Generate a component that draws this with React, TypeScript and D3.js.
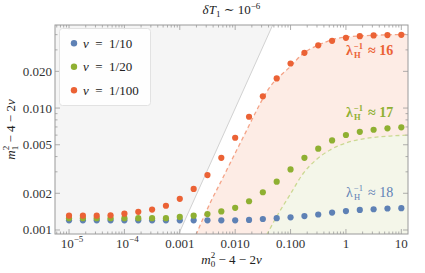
import * as d3 from "d3";

// x positions of the sampled points (quarter-decade steps)
const xVals = [
  1e-5, 1.78e-5, 3.16e-5, 5.62e-5, 1e-4, 1.78e-4, 3.16e-4, 5.62e-4, 1e-3,
  1.78e-3, 3.16e-3, 5.62e-3, 0.01, 0.0178, 0.0316, 0.0562, 0.1, 0.178, 0.316,
  0.562, 1, 1.78, 3.16, 5.62, 10,
];

const blueVals = [
  0.0012, 0.0012, 0.0012, 0.0012, 0.0012, 0.0012, 0.0012, 0.0012, 0.0012,
  0.0012, 0.0012, 0.0012, 0.0012, 0.00121, 0.00123, 0.00125, 0.00127, 0.0013,
  0.00134, 0.00139, 0.00143, 0.00146, 0.00148, 0.0015, 0.00151,
];
const greenVals = [
  0.00125, 0.00125, 0.00125, 0.00125, 0.00125, 0.00125, 0.00125, 0.00125,
  0.00128, 0.00131, 0.00135, 0.00142, 0.00152, 0.00172, 0.00204, 0.00249,
  0.00314, 0.00391, 0.00464, 0.00543, 0.00601, 0.00639, 0.00664, 0.00682,
  0.00695,
];
const orangeVals = [
  0.00131, 0.00131, 0.00131, 0.00132, 0.00136, 0.00141, 0.00147, 0.00158,
  0.0018, 0.00217, 0.00282, 0.00391, 0.00571, 0.00849, 0.01247, 0.0175, 0.0232,
  0.0284, 0.0327, 0.0356, 0.0377, 0.0389, 0.0394, 0.0397, 0.0399,
];

// dashed boundary curves
const orangeBound: [number, number][] = [
  [0.00196, 0.00091], [0.00352, 0.00166], [0.00533, 0.00241],
  [0.01067, 0.00453], [0.0162, 0.0066], [0.0199, 0.00797], [0.0427, 0.01495],
  [0.098, 0.0218], [0.17, 0.0281], [0.318, 0.0328], [0.593, 0.0366],
  [1.567, 0.0389], [13.4, 0.0402],
];
const greenBound: [number, number][] = [
  [0.0371, 0.00091], [0.0562, 0.00129], [0.098, 0.00195], [0.17, 0.00292],
  [0.297, 0.0038], [0.516, 0.00453], [1.034, 0.0052], [2.37, 0.00565],
  [6.25, 0.00589], [13.4, 0.00601],
];
const grayLine: [number, number][] = [
  [0.00094, 0.00091],
  [0.0489, 0.0494],
];

const xTickVals = [1e-5, 1e-4, 1e-3, 1e-2, 1e-1, 1, 10];
const xTickLabels = ["10|-5", "10|-4", "0.001", "0.010", "0.100", "1", "10"];
const yTickVals = [0.001, 0.002, 0.005, 0.01, 0.02];
const yTickLabels = ["0.001", "0.002", "0.005", "0.010", "0.020"];

const seriesNames = ["1/10", "1/20", "1/100"];
const lambdaLabels = ["18", "17", "16"];

const COLORS = ["#5e81b5", "#8fb032", "#eb6235"];
const FONT = "Liberation Serif, DejaVu Serif, serif";

const W = 425;
const H = 273;
const margin = { top: 25, right: 17, bottom: 39, left: 55 };

export default function App() {
  const x = d3
    .scaleLog()
    .domain([5.58e-6, 13.2])
    .range([margin.left, W - margin.right]);
  const y = d3
    .scaleLog()
    .domain([0.000927, 0.048])
    .range([H - margin.bottom, margin.top]);

  const [x0, x1] = x.range();
  const [y0, y1] = y.range(); // y0 bottom, y1 top
  const xMin = x.domain()[0];
  const yMin = 0.0008;

  const line = d3
    .line<[number, number]>()
    .x((d) => x(d[0]))
    .y((d) => y(d[1]))
    .curve(d3.curveMonotoneX);

  const area = d3
    .area<[number, number]>()
    .x((d) => x(d[0]))
    .y0(y(yMin))
    .y1((d) => y(d[1]))
    .curve(d3.curveMonotoneX);

  // extend the shaded areas to the right edge
  const orangeArea = [...orangeBound, [20, orangeBound[orangeBound.length - 1][1]] as [number, number]];
  const greenArea = [...greenBound, [20, greenBound[greenBound.length - 1][1]] as [number, number]];

  const grayPoly = [
    [x(xMin), y(yMin)],
    [x(grayLine[0][0]), y(grayLine[0][1])],
    [x(grayLine[1][0]), y(grayLine[1][1])],
    [x(xMin), y(grayLine[1][1])],
  ]
    .map((p) => p.join(","))
    .join(" ");

  const xMinor = x.ticks().filter((t) => !xTickVals.some((v) => Math.abs(v - t) / v < 1e-6));
  const yMinor = y.ticks().filter((t) => !yTickVals.some((v) => Math.abs(v - t) / v < 1e-6));

  const series = [blueVals, greenVals, orangeVals];
  const frame = "#9a9a9a";

  return (
    <svg
      width={W}
      height={H}
      style={{ position: "absolute", left: 0, top: 0, background: "#fff", fontFamily: FONT }}
    >
      <defs>
        <clipPath id="plot-clip">
          <rect x={x0} y={y1} width={x1 - x0} height={y0 - y1} />
        </clipPath>
      </defs>

      <g clipPath="url(#plot-clip)">
        <polygon points={grayPoly} fill="#f5f5f5" />
        <line
          x1={x(grayLine[0][0])}
          y1={y(grayLine[0][1])}
          x2={x(grayLine[1][0])}
          y2={y(grayLine[1][1])}
          stroke="#d2d2d2"
          strokeWidth={1}
        />
        <path d={area(orangeArea) ?? ""} fill="#fdece5" />
        <path d={area(greenArea) ?? ""} fill="#f4f6e9" />
        <path
          d={line(orangeBound) ?? ""}
          fill="none"
          stroke="#f4a387"
          strokeWidth={1.3}
          strokeDasharray="4,3"
        />
        <path
          d={line(greenBound) ?? ""}
          fill="none"
          stroke="#cbd992"
          strokeWidth={1.3}
          strokeDasharray="4,3"
        />

        {series.map((vals, si) => (
          <g key={si} fill={COLORS[si]}>
            {vals.map((v, i) => (
              <circle key={i} cx={x(xVals[i])} cy={y(v)} r={3.1} />
            ))}
          </g>
        ))}
      </g>

      {/* frame */}
      <rect x={x0} y={y1} width={x1 - x0} height={y0 - y1} fill="none" stroke={frame} strokeWidth={1} />

      {/* ticks on all four sides */}
      <g stroke={frame} strokeWidth={0.8}>
        {xTickVals.map((t) => (
          <g key={"xM" + t}>
            <line x1={x(t)} x2={x(t)} y1={y0} y2={y0 - 5} />
            <line x1={x(t)} x2={x(t)} y1={y1} y2={y1 + 5} />
          </g>
        ))}
        {xMinor.map((t) => (
          <g key={"xm" + t}>
            <line x1={x(t)} x2={x(t)} y1={y0} y2={y0 - 2.5} />
            <line x1={x(t)} x2={x(t)} y1={y1} y2={y1 + 2.5} />
          </g>
        ))}
        {yTickVals.map((t) => (
          <g key={"yM" + t}>
            <line x1={x0} x2={x0 + 5} y1={y(t)} y2={y(t)} />
            <line x1={x1} x2={x1 - 5} y1={y(t)} y2={y(t)} />
          </g>
        ))}
        {yMinor.map((t) => (
          <g key={"ym" + t}>
            <line x1={x0} x2={x0 + 2.5} y1={y(t)} y2={y(t)} />
            <line x1={x1} x2={x1 - 2.5} y1={y(t)} y2={y(t)} />
          </g>
        ))}
      </g>

      {/* x tick labels */}
      <g fontSize={13} fill="#333" textAnchor="middle">
        {xTickVals.map((t, i) => {
          const lab = xTickLabels[i];
          if (lab.includes("|")) {
            const [base, exp] = lab.split("|");
            return (
              <text key={t} x={x(t) + 3} y={248}>
                {base}
                <tspan fontSize={9} dy={-6}>
                  {exp.replace("-", "\u2212")}
                </tspan>
              </text>
            );
          }
          return (
            <text key={t} x={x(t)} y={248}>
              {lab}
            </text>
          );
        })}
      </g>

      {/* y tick labels */}
      <g fontSize={13} fill="#333" textAnchor="end">
        {yTickVals.map((t, i) => (
          <text key={t} x={x0 - 3} y={y(t) + 4.5}>
            {yTickLabels[i]}
          </text>
        ))}
      </g>

      {/* title */}
      <text x={(x0 + x1) / 2} y={14} fontSize={13} textAnchor="middle" fill="#222">
        <tspan fontStyle="italic">δT</tspan>
        <tspan fontSize={9} dy={3}>1</tspan>
        <tspan dy={-3}> ∼ 10</tspan>
        <tspan fontSize={9} dy={-5}>−6</tspan>
      </text>

      {/* axis labels */}
      <text x={(x0 + x1) / 2} y={264} fontSize={13} textAnchor="middle" fill="#222">
        <tspan fontStyle="italic">m</tspan>
        <tspan fontSize={9} dy={3}>0</tspan>
        <tspan fontSize={9} dx={-4.5} dy={-9}>2</tspan>
        <tspan dy={6}> − 4 − 2</tspan>
        <tspan fontStyle="italic">ν</tspan>
      </text>
      <text
        transform={`translate(15,${(y0 + y1) / 2}) rotate(-90)`}
        fontSize={13}
        textAnchor="middle"
        fill="#222"
      >
        <tspan fontStyle="italic">m</tspan>
        <tspan fontSize={9} dy={3}>1</tspan>
        <tspan fontSize={9} dx={-4.5} dy={-9}>2</tspan>
        <tspan dy={6}> − 4 − 2</tspan>
        <tspan fontStyle="italic">ν</tspan>
      </text>

      {/* legend */}
      <rect x={59.5} y={28.5} width={91} height={77} rx={3} fill="#fff" fillOpacity={0.85} stroke="#e2e2e2" />
      {seriesNames.map((name, i) => (
        <g key={name}>
          <circle cx={74} cy={43.3 + i * 23.5} r={3.2} fill={COLORS[i]} />
          <text x={83} y={47.8 + i * 23.5} fontSize={13} fill="#222" xmlSpace="preserve">
            <tspan fontStyle="italic">ν</tspan>
            <tspan>{"  =  " + name}</tspan>
          </text>
        </g>
      ))}

      {/* lambda_H annotations */}
      {lambdaLabels.map((lab, i) => {
        const by = [197, 117, 55][i];
        return (
          <g key={lab} fill={COLORS[i]} fontWeight={i === 0 ? "normal" : "bold"}>
            <text x={346} y={by} fontSize={14}>
              λ
            </text>
            <text x={354} y={by - 6} fontSize={8.5}>
              −1
            </text>
            <text x={354} y={by + 3} fontSize={8.5}>
              H
            </text>
            <text x={368} y={by} fontSize={14}>
              ≈ {lab}
            </text>
          </g>
        );
      })}
    </svg>
  );
}
